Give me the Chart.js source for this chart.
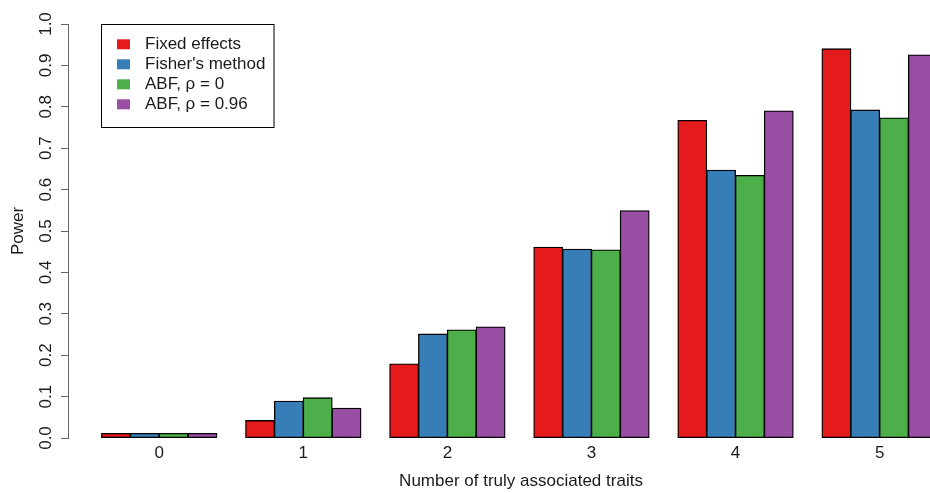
<!DOCTYPE html>
<html>
<head>
<meta charset="utf-8">
<script src="https://cdn.jsdelivr.net/npm/chart.js@4/dist/chart.umd.min.js"></script>
<style>
	html, body { margin: 0; padding: 0; background: #fff; overflow: hidden; }
	#wrap { width: 974px; height: 493px; }
</style>
</head>
<body>
<div id="wrap"><canvas id="myChart" width="974" height="493"></canvas></div>
<script>
// number of truly associated traits (x categories)
const traits = [0, 1, 2, 3, 4, 5];
const yTicks = [0, 0.1, 0.2, 0.3, 0.4, 0.5, 0.6, 0.7, 0.8, 0.9, 1.0];

const seriesNames = ['Fixed effects', "Fisher's method", 'ABF, \u03c1 = 0', 'ABF, \u03c1 = 0.96'];
const fixedEffects = [0.011, 0.042, 0.179, 0.461, 0.767, 0.940];
const fisherMethod = [0.011, 0.089, 0.251, 0.456, 0.647, 0.792];
const abfRho0      = [0.011, 0.097, 0.261, 0.454, 0.634, 0.773];
const abfRho096    = [0.011, 0.072, 0.268, 0.549, 0.790, 0.925];

const colors = ['#E41A1C', '#377EB8', '#4DAF4A', '#984EA3'];
const FONT = "'Liberation Sans', Arial, Helvetica, sans-serif";

// boxed legend in the top left, R style
const boxLegend = {
	id: 'boxLegend',
	afterDraw(chart) {
		const ctx = chart.ctx;
		ctx.save();
		ctx.strokeStyle = '#000';
		ctx.lineWidth = 1;
		ctx.strokeRect(101.5, 24.5, 172.5, 103);
		ctx.font = '17px ' + FONT;
		ctx.textBaseline = 'middle';
		ctx.textAlign = 'left';
		chart.data.datasets.forEach((ds, i) => {
			const y = 44.3 + i * 20;
			ctx.fillStyle = ds.backgroundColor;
			ctx.fillRect(117, y - 5, 13, 10);
			ctx.fillStyle = '#1a1a1a';
			ctx.fillText(ds.label, 145, y);
		});
		ctx.restore();
	}
};

let myChart = 0;
function createChart() {
	const ctx = document.getElementById('myChart');
	const values = [fixedEffects, fisherMethod, abfRho0, abfRho096];
	myChart = new Chart(ctx, {
		type: 'bar',
		data: {
			labels: traits,
			datasets: values.map((v, i) => ({
				label: seriesNames[i],
				data: v,
				backgroundColor: colors[i],
				borderColor: '#000',
				borderWidth: 1.3,
				borderSkipped: false,
				inflateAmount: 0.5,
				categoryPercentage: 0.8,
				barPercentage: 1.0
			}))
		},
		options: {
			responsive: false,
			animation: false,
			devicePixelRatio: 1,
			layout: { padding: { top: 24, left: 0, right: 0, bottom: 0 } },
			plugins: { legend: { display: false }, tooltip: { enabled: false } },
			scales: {
				x: {
					type: 'linear',
					offset: false,
					min: -0.633,
					max: 5.655,
					afterBuildTicks: s => { s.ticks = traits.map(v => ({ value: v })); },
					afterFit: s => { s.height = 55; },
					grid: { display: false, drawTicks: false },
					border: { display: false },
					ticks: {
						autoSkip: false,
						maxRotation: 0,
						padding: 5,
						color: '#1a1a1a',
						font: { family: FONT, size: 17 },
						callback: v => String(v)
					},
					title: {
						display: true,
						text: 'Number of truly associated traits',
						color: '#1a1a1a',
						font: { family: FONT, size: 17, lineHeight: 1 },
						padding: { top: 0, bottom: 3 }
					}
				},
				y: {
					min: 0,
					max: 1,
					afterBuildTicks: s => { s.ticks = yTicks.map(v => ({ value: v })); },
					afterFit: s => { s.width = 68; },
					grid: { drawOnChartArea: false, drawTicks: true, tickLength: 7, color: '#666', lineWidth: 1 },
					border: { display: true, color: '#666', width: 1 },
					ticks: {
						minRotation: 90,
						maxRotation: 90,
						crossAlign: 'center',
						padding: 3,
						color: '#1a1a1a',
						font: { family: FONT, size: 17 },
						callback: v => v.toFixed(1)
					},
					title: {
						display: true,
						text: 'Power',
						color: '#1a1a1a',
						font: { family: FONT, size: 17, lineHeight: 1 },
						padding: { top: 10, bottom: 0 }
					}
				}
			}
		},
		plugins: [boxLegend]
	});
}

createChart();
</script>
</body>
</html>
